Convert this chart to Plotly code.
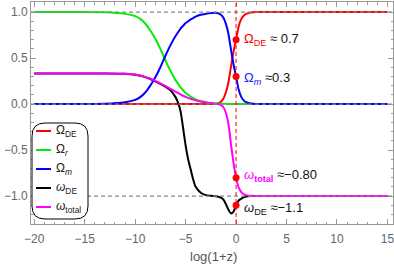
import plotly.graph_objects as go

# ---------------- data ----------------
X = [-20, -16, -13, -11, -10, -9.5, -9, -8.5, -8, -7.5, -7, -6.5, -6, -5.75, -5.5,
     -5.25, -5, -4.75, -4.5, -4.25, -4, -3.5, -3, -2.5, -2, -1.75, -1.5, -1.25, -1,
     -0.75, -0.5, -0.25, 0, 0.25, 0.5, 0.75, 1, 1.5, 2, 3, 15]

Omega_DE = [0, 0, 0, 0, 0, 0, 0, 0, 0, 0, 0, 0, 0, 0, 0,
            0, 0, 0, 0, 0, 0, 0, 0, 0, 0, 0.01, 0.025, 0.06, 0.13,
            0.24, 0.41, 0.57, 0.70, 0.84, 0.92, 0.96, 0.98, 0.995, 0.999, 1.0, 1.0]

Omega_r = [1.0, 1.0, 0.997, 0.98, 0.955, 0.925, 0.875, 0.80, 0.71, 0.60, 0.475, 0.36, 0.26, 0.22, 0.18,
           0.15, 0.12, 0.10, 0.08, 0.065, 0.05, 0.03, 0.02, 0.012, 0.007, 0.005, 0.004, 0.003, 0.002,
           0.001, 0.001, 0, 0, 0, 0, 0, 0, 0, 0, 0, 0]

Omega_m = [0, 0, 0.003, 0.02, 0.045, 0.075, 0.125, 0.20, 0.29, 0.40, 0.525, 0.64, 0.74, 0.78, 0.82,
           0.85, 0.88, 0.90, 0.92, 0.935, 0.95, 0.97, 0.98, 0.988, 0.993, 0.985, 0.97, 0.937, 0.868,
           0.759, 0.589, 0.43, 0.30, 0.16, 0.08, 0.04, 0.02, 0.005, 0.001, 0, 0]

w_DE = [0.333, 0.333, 0.332, 0.328, 0.318, 0.308, 0.292, 0.272, 0.247, 0.22, 0.188, 0.15, 0.075, 0.015, -0.08,
        -0.26, -0.45, -0.60, -0.71, -0.82, -0.90, -0.965, -0.99, -0.998, -1.003, -1.008, -1.018, -1.04, -1.09,
        -1.15, -1.19, -1.17, -1.10, -1.05, -1.03, -1.015, -1.006, -1.001, -1.0, -1.0, -1.0]

w_total = [0.333, 0.333, 0.332, 0.328, 0.32, 0.31, 0.295, 0.275, 0.25, 0.225, 0.195, 0.165, 0.135, 0.12, 0.105,
           0.09, 0.078, 0.067, 0.057, 0.048, 0.04, 0.028, 0.018, 0.01, 0.004, 0.0, -0.012, -0.035, -0.10,
           -0.22, -0.44, -0.64, -0.80, -0.905, -0.955, -0.98, -0.99, -0.998, -1.0, -1.0, -1.0]

series_names = ["Ω<sub>DE</sub>", "Ω<sub><i>r</i></sub>", "Ω<sub><i>m</i></sub>",
                "<i>ω</i><sub>DE</sub>", "<i>ω</i><sub>total</sub>"]
series_values = [Omega_DE, Omega_r, Omega_m, w_DE, w_total]
series_colors = ["#ff0000", "#00ee00", "#0000ff", "#000000", "#ff00ff"]

# today's values (x = 0)
today_x = [0, 0, 0, 0]
today_y = [0.7, 0.3, -0.80, -1.1]
today_labels = [
    '<span style="color:#ff0000">Ω<sub>DE</sub></span> ≈ 0.7',
    '<span style="color:#2222ff">Ω<sub><i>m</i></sub></span> ≈0.3',
    '<span style="color:#ff00ff"><i>ω</i><sub><b>total</b></sub></span> ≈−0.80',
    '<i>ω</i><sub>DE</sub> ≈−1.1',
]
label_y = [0.70, 0.28, -0.78, -1.14]
ref_levels = [1, 0, -1]

x_title = "log(1+z)"
x_ticks = [-20, -15, -10, -5, 0, 5, 10, 15]
y_ticks = [-1.0, -0.5, 0.0, 0.5, 1.0]

# ---------------- layout geometry ----------------
W, H = 394, 265
L, R, T, B = 31, 393, 2, 224


def pxx(px):
    return (px - L) / (R - L)


def pyy(py):
    return (B - py) / (B - T)


FONT = "Liberation Sans, Arial, sans-serif"
fig = go.Figure()

for name, vals, col in zip(series_names, series_values, series_colors):
    fig.add_trace(go.Scatter(x=X, y=vals, mode="lines", name=name,
                             line=dict(color=col, width=2, shape="spline", smoothing=0.7),
                             showlegend=False, hoverinfo="skip"))

fig.add_trace(go.Scatter(x=today_x, y=today_y, mode="markers",
                         marker=dict(color="#ff0000", size=7), showlegend=False,
                         hoverinfo="skip"))

shapes = []
for lv in ref_levels:
    shapes.append(dict(type="line", xref="paper", yref="y", x0=0, x1=1, y0=lv, y1=lv,
                       line=dict(color="#888888", width=1.3, dash="4px,3px"), layer="above"))
shapes.append(dict(type="line", xref="x", yref="paper", x0=0, x1=0, y0=0, y1=1,
                   line=dict(color="#ff0000", width=1, dash="4px,3px"), layer="above"))

# legend box (rounded)
bx0, bx1, by0, by1, rad = 32, 88, 123, 219, 13
rx = rad / (R - L)
ry = rad / (B - T)
X0, X1, Y0, Y1 = pxx(bx0), pxx(bx1), pyy(by1), pyy(by0)
path = (f"M{X0 + rx},{Y1} L{X1 - rx},{Y1} Q{X1},{Y1} {X1},{Y1 - ry} "
        f"L{X1},{Y0 + ry} Q{X1},{Y0} {X1 - rx},{Y0} L{X0 + rx},{Y0} "
        f"Q{X0},{Y0} {X0},{Y0 + ry} L{X0},{Y1 - ry} Q{X0},{Y1} {X0 + rx},{Y1} Z")
shapes.append(dict(type="path", xref="paper", yref="paper", path=path,
                   line=dict(color="#000000", width=1), fillcolor="white", layer="above"))

annotations = []
for i, (name, col) in enumerate(zip(series_names, series_colors)):
    rowy = 131 + 19 * i
    shapes.append(dict(type="line", xref="paper", yref="paper",
                       x0=pxx(36), x1=pxx(51), y0=pyy(rowy), y1=pyy(rowy),
                       line=dict(color=col, width=2), layer="above"))
    annotations.append(dict(xref="paper", yref="paper", x=pxx(54), y=pyy(rowy),
                            text=name, showarrow=False, xanchor="left", yanchor="middle",
                            font=dict(family=FONT, size=12, color="#222222")))

for txt, ly in zip(today_labels, label_y):
    annotations.append(dict(x=0.55, y=ly, xref="x", yref="y", text=txt, showarrow=False,
                            xanchor="left", yanchor="middle",
                            font=dict(family=FONT, size=13, color="#111111")))

# x-axis title
annotations.append(dict(xref="paper", yref="paper", x=pxx(213), y=pyy(256), text=x_title,
                        showarrow=False, xanchor="center", yanchor="middle",
                        font=dict(family=FONT, size=13, color="#555555")))

axis_common = dict(showline=True, linecolor="#999999", linewidth=1, mirror="ticks",
                   ticks="inside", tickcolor="#999999", ticklen=5, tickwidth=1,
                   showgrid=False, zeroline=False, automargin=False,
                   ticklabeloverflow="allow",
                   tickfont=dict(family=FONT, size=12, color="#666666"))

fig.update_layout(
    width=W, height=H,
    margin=dict(l=L, r=W - R, t=T, b=H - B),
    paper_bgcolor="white", plot_bgcolor="white",
    xaxis=dict(range=[-20.32, 15.55], tickvals=x_ticks, ticklabelstandoff=4,
               minor=dict(dtick=1, ticks="inside", ticklen=2.5, tickcolor="#999999"),
               **axis_common),
    yaxis=dict(range=[-1.304, 1.109], tickvals=y_ticks, tickformat=".1f",
               minor=dict(dtick=0.1, ticks="inside", ticklen=2.5, tickcolor="#999999"),
               **axis_common),
    shapes=shapes, annotations=annotations, showlegend=False,
)

fig.write_html("out.html", config={"displayModeBar": False},
               post_script="document.body.style.margin='0';document.body.style.overflow='hidden';")
